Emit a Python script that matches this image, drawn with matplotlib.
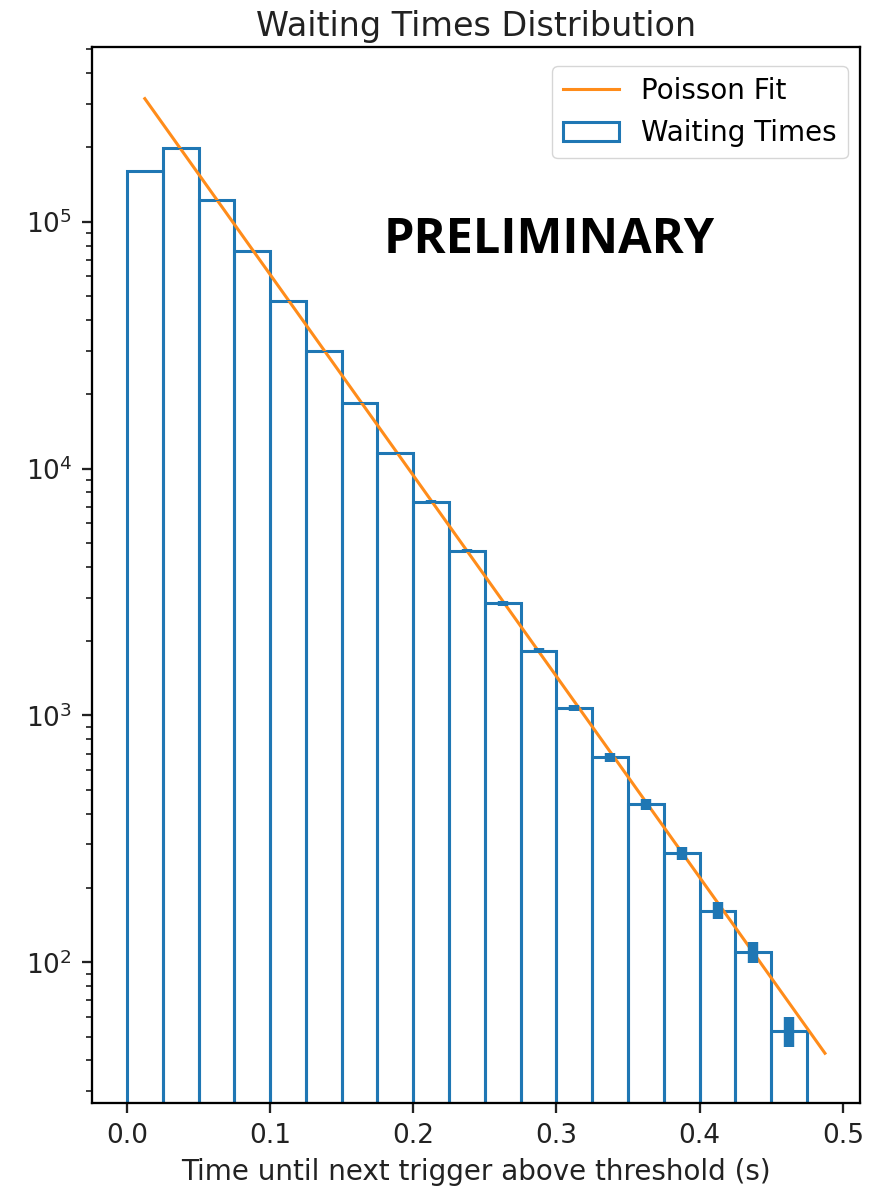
import matplotlib
matplotlib.use("Agg")
import matplotlib.pyplot as plt
import numpy as np

# bin edges (s) and counts
bin_edges = [0.0, 0.025, 0.05, 0.075, 0.1, 0.125, 0.15, 0.175, 0.2, 0.225,
             0.25, 0.275, 0.3, 0.325, 0.35, 0.375, 0.4, 0.425, 0.45, 0.475]
counts = [160800, 198000, 122000, 76000, 47900, 29800, 18500, 11600, 7350,
          4650, 2840, 1830, 1070, 676, 436, 276, 162, 110, 52.6]

# poisson fit line end points
fit_t = [0.0125, 0.4875]
fit_counts = [315000, 42.8]

s = 2.05  # scale of the upscaled notebook figure
plt.rcParams['font.size'] = 20
plt.rcParams['axes.linewidth'] = 0.8 * s
for ax_name in ['xtick', 'ytick']:
    plt.rcParams[ax_name + '.major.size'] = 3.5 * s
    plt.rcParams[ax_name + '.minor.size'] = 2 * s
    plt.rcParams[ax_name + '.major.width'] = 0.8 * s
    plt.rcParams[ax_name + '.minor.width'] = 0.6 * s
    plt.rcParams[ax_name + '.major.pad'] = 3.5 * s
    plt.rcParams[ax_name + '.labelsize'] = 19
    plt.rcParams[ax_name + '.color'] = '#222222'
    plt.rcParams[ax_name + '.labelcolor'] = '#222222'

fig = plt.figure(figsize=(8.87, 11.89), dpi=100)
ax = fig.add_axes([0.1037, 0.0723, 0.8659, 0.8882])

edges = np.array(bin_edges + [0.5])
edges = edges[:len(counts) + 1]
centers = (edges[:-1] + edges[1:]) / 2

ax.plot(fit_t, fit_counts, color="#ff8c1a", lw=2.2, label="Poisson Fit")
ax.hist(centers, bins=edges, weights=counts, log=True, fill=False,
        edgecolor="C0", linewidth=2.2, label="Waiting Times")
ax.errorbar(centers, counts, yerr=np.sqrt(counts), fmt="none",
            ecolor="C0", elinewidth=7.5)

ax.set_yscale("log")
ax.set_ylim(26.9, 5.1e5)
ax.set_xlim(-0.0244, 0.512)
ax.set_xticks([0.0, 0.1, 0.2, 0.3, 0.4, 0.5])

ax.set_title("Waiting Times Distribution", fontsize=24, pad=8,
             color='#222222')
ax.set_xlabel("Time until next trigger above threshold (s)", labelpad=3 * s,
              color='#222222')
ax.legend(loc="upper right", fontsize=20, borderaxespad=0,
          bbox_to_anchor=(0.984, 0.982))

ax.text(0.595, 0.817, "PRELIMINARY", transform=ax.transAxes,
        ha="center", va="center", fontsize=35, fontweight="bold",
        family=["Open Sans", "DejaVu Sans"])

plt.savefig("out.png", dpi=100)
